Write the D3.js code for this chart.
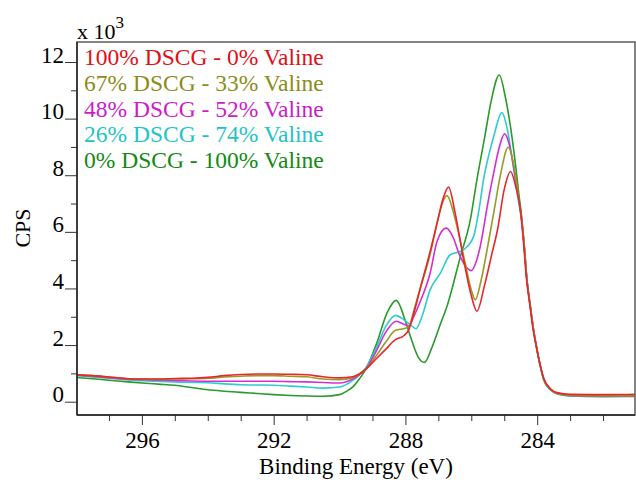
<!DOCTYPE html>
<html><head><meta charset="utf-8">
<script src="https://cdn.jsdelivr.net/npm/d3@7"></script>
<style>body{margin:0;background:#fff}svg{display:block}</style>
</head><body>
<svg id="c" width="636" height="480" font-family="'Liberation Serif', 'Times New Roman', 'DejaVu Serif', serif"></svg>
<script>
// Binding energy (eV) vs CPS (x 10^3)
const FONT = "'Liberation Serif', 'Times New Roman', 'DejaVu Serif', serif";
const seriesNames = ["100% DSCG - 0% Valine","67% DSCG - 33% Valine","48% DSCG - 52% Valine","26% DSCG - 74% Valine","0% DSCG - 100% Valine"];
const seriesColors = ["#e8262b","#999926","#d42ed4","#2ecccc","#2a9a2a"];
const legendColors = ["#e0101a","#8c8c1a","#cc1ccc","#1ec4c4","#138a13"];
const yMajorTicks = [0,2,4,6,8,10,12];
const yMinorTicks = [1,3,5,7,9,11];
const xMajorTicks = [296,292,288,284];
const xMinorTicks = [297,295,294,293,291,290,289,287,286,285,283,282];

const red = [[298,0.95],[297.5,0.92],[297,0.87],[296.5,0.82],[296,0.8],[295.5,0.8],[295,0.82],[294.5,0.83],[294,0.86],[293.5,0.92],[293,0.96],[292.5,0.98],[292,0.98],[291.5,0.97],[291,0.95],[290.5,0.88],[290,0.84],[289.6,0.88],[289.4,0.98],[289.2,1.15],[288.9,1.5],[288.6,1.85],[288.3,2.19],[288.05,2.33],[287.9,2.54],[287.75,3.1],[287.55,4.0],[287.25,5.3],[287.04,6.3],[286.85,7.2],[286.69,7.58],[286.49,6.66],[286.23,5.0],[286.0,3.75],[285.83,3.2],[285.6,4.1],[285.4,5.1],[285.2,6.1],[285.0,7.5],[284.81,8.13],[284.65,7.6],[284.5,6.7],[284.42,5.7],[284.33,4.4],[284.22,3.4],[284.13,2.6],[284.0,1.8],[283.9,1.25],[283.8,0.82],[283.6,0.46],[283.4,0.32],[283.0,0.26],[282,0.25],[281,0.26]];
const olive = [[298,0.95],[297.5,0.92],[297,0.87],[296.5,0.82],[296,0.8],[295.5,0.79],[295,0.8],[294.5,0.81],[294,0.83],[293.5,0.87],[293,0.9],[292.5,0.92],[292,0.92],[291.5,0.9],[291,0.88],[290.5,0.8],[290,0.78],[289.6,0.85],[289.4,0.97],[289.2,1.15],[288.9,1.6],[288.6,2.1],[288.3,2.52],[288.05,2.58],[287.9,2.64],[287.75,3.2],[287.55,4.0],[287.25,5.2],[287.0,6.5],[286.85,7.1],[286.74,7.28],[286.5,6.5],[286.23,5.13],[286.0,3.95],[285.88,3.6],[285.7,4.3],[285.5,5.5],[285.3,6.8],[285.1,8.1],[284.88,8.99],[284.7,8.3],[284.55,7.1],[284.45,6.2],[284.4,5.6],[284.31,4.3],[284.2,3.3],[284.11,2.54],[284.0,1.8],[283.9,1.25],[283.8,0.8],[283.6,0.45],[283.4,0.3],[283.0,0.23],[282,0.21],[281,0.21]];
const magenta = [[298,0.95],[297.5,0.9],[297,0.85],[296.5,0.8],[296,0.78],[295.5,0.76],[295,0.75],[294.5,0.73],[294,0.72],[293.5,0.72],[293,0.72],[292.5,0.72],[292,0.72],[291.5,0.71],[291,0.7],[290.5,0.68],[290,0.66],[289.6,0.8],[289.4,0.95],[289.2,1.15],[288.9,1.75],[288.6,2.45],[288.28,2.84],[288.05,2.74],[287.9,2.68],[287.75,3.0],[287.55,3.54],[287.25,4.54],[287.04,5.66],[286.76,6.13],[286.55,5.8],[286.38,5.25],[286.15,4.75],[286.0,4.63],[285.85,4.95],[285.73,5.48],[285.5,7.0],[285.3,8.2],[285.17,8.9],[284.99,9.46],[284.85,9.1],[284.7,8.2],[284.55,7.1],[284.45,6.2],[284.4,5.6],[284.31,4.3],[284.2,3.3],[284.11,2.54],[284.0,1.8],[283.9,1.25],[283.8,0.8],[283.6,0.45],[283.4,0.3],[283.0,0.22],[282,0.2],[281,0.2]];
const cyan = [[298,0.92],[297.5,0.87],[297,0.83],[296.5,0.78],[296,0.74],[295.5,0.72],[295,0.7],[294.5,0.68],[294,0.67],[293.5,0.63],[293,0.6],[292.5,0.59],[292,0.58],[291.5,0.55],[291,0.52],[290.5,0.48],[290,0.52],[289.6,0.75],[289.4,0.95],[289.2,1.2],[288.9,1.85],[288.6,2.65],[288.3,3.05],[288.05,2.9],[287.85,2.72],[287.68,2.58],[287.5,3.0],[287.25,3.95],[286.94,4.54],[286.64,5.19],[286.49,5.25],[286.2,5.4],[285.93,5.84],[285.75,6.9],[285.63,7.84],[285.45,8.8],[285.32,9.37],[285.07,10.21],[284.92,9.7],[284.75,8.5],[284.6,7.3],[284.45,6.2],[284.4,5.6],[284.31,4.3],[284.2,3.3],[284.11,2.54],[284.0,1.8],[283.9,1.25],[283.8,0.78],[283.6,0.44],[283.4,0.3],[283.0,0.21],[282,0.2],[281,0.2]];
const green = [[298,0.86],[297.5,0.81],[297,0.76],[296.5,0.71],[296,0.66],[295.5,0.62],[295,0.58],[294.5,0.5],[294,0.42],[293.5,0.37],[293,0.33],[292.5,0.29],[292,0.25],[291.5,0.22],[291,0.2],[290.5,0.19],[290,0.25],[289.8,0.36],[289.58,0.54],[289.4,0.8],[289.2,1.15],[288.87,2.07],[288.56,3.13],[288.28,3.58],[288.0,2.85],[287.85,2.31],[287.6,1.55],[287.42,1.39],[287.2,1.9],[286.95,2.7],[286.74,3.36],[286.33,5.13],[286.03,6.42],[285.83,7.84],[285.6,9.3],[285.4,10.6],[285.15,11.54],[284.97,10.78],[284.81,9.72],[284.65,8.3],[284.56,7.37],[284.46,6.4],[284.4,5.6],[284.31,4.3],[284.2,3.3],[284.11,2.54],[284.0,1.8],[283.9,1.22],[283.8,0.76],[283.6,0.42],[283.4,0.28],[283.0,0.2],[282,0.18],[281,0.19]];
const seriesData = [red, olive, magenta, cyan, green];

const svg = d3.select("#c");
const L = 77, R = 635, T = 42, B = 415;
const x = d3.scaleLinear().domain([298, 281]).range([76, 636]);
const y = d3.scaleLinear().domain([0, 12]).range([401.7, 62]);

// curves (green at back, red on top)
svg.append("clipPath").attr("id","pc").append("rect").attr("x",L).attr("y",T).attr("width",R-L).attr("height",B-T);
const line = d3.line().x(d=>x(d[0])).y(d=>y(d[1])).curve(d3.curveMonotoneX);
const g = svg.append("g").attr("clip-path","url(#pc)");
[4,3,2,1,0].forEach(i=>{
  g.append("path").datum(seriesData[i]).attr("d",line).attr("fill","none")
   .attr("stroke",seriesColors[i]).attr("stroke-width",1.6);
});

// frame
svg.append("rect").attr("x",L).attr("y",T).attr("width",R-L).attr("height",B-T)
  .attr("fill","none").attr("stroke","#666").attr("stroke-width",1.6);

// y axis
const yAx = svg.append("g").attr("transform",`translate(${L},0)`);
yAx.call(d3.axisLeft(y).tickValues(yMajorTicks).tickSize(12).tickPadding(1).tickFormat(d3.format("d")));
yAx.attr("font-family",FONT).attr("font-size",23);
yAx.select(".domain").remove();
yAx.selectAll("text").attr("dy","0").attr("fill","#000");
yAx.selectAll("line").attr("stroke","#333");
const yMin = svg.append("g").attr("transform",`translate(${L},0)`);
yMin.call(d3.axisLeft(y).tickValues(yMinorTicks).tickSize(6).tickFormat(""));
yMin.select(".domain").remove();
yMin.selectAll("line").attr("stroke","#333");
svg.append("line").attr("x1",L).attr("x2",L).attr("y1",T).attr("y2",B).attr("stroke","#222").attr("stroke-width",1.4);

// x axis
const xAx = svg.append("g").attr("transform",`translate(0,${B})`);
xAx.call(d3.axisBottom(x).tickValues(xMajorTicks).tickSize(10).tickFormat(d3.format("d")));
xAx.attr("font-family",FONT).attr("font-size",23);
xAx.select(".domain").remove();
xAx.selectAll("text").attr("y",33).attr("dy","0").attr("fill","#000");
xAx.selectAll("line").attr("stroke","#333");
const xMin = svg.append("g").attr("transform",`translate(0,${B})`);
xMin.call(d3.axisBottom(x).tickValues(xMinorTicks).tickSize(6).tickFormat(""));
xMin.select(".domain").remove();
xMin.selectAll("line").attr("stroke","#333");
svg.append("line").attr("x1",L).attr("x2",R).attr("y1",B).attr("y2",B).attr("stroke","#222").attr("stroke-width",1.4);

// axis titles
svg.append("text").attr("x",356).attr("y",474).attr("text-anchor","middle").attr("font-family",FONT).attr("font-size",23).text("Binding Energy (eV)");
svg.append("text").attr("transform","translate(30,228) rotate(-90)").attr("text-anchor","middle").attr("font-family",FONT).attr("font-size",22).text("CPS");
const mult = svg.append("text").attr("x",77).attr("y",39).attr("font-family",FONT).attr("font-size",22);
mult.append("tspan").text("x 10");
mult.append("tspan").attr("font-size",17).attr("dy",-11).text("3");

// legend
seriesNames.forEach((n,i)=>{
  svg.append("text").attr("x",84).attr("y",65+i*25.8).attr("font-family",FONT).attr("font-size",23.5).attr("fill",legendColors[i]).text(n);
});
</script>
</body></html>
